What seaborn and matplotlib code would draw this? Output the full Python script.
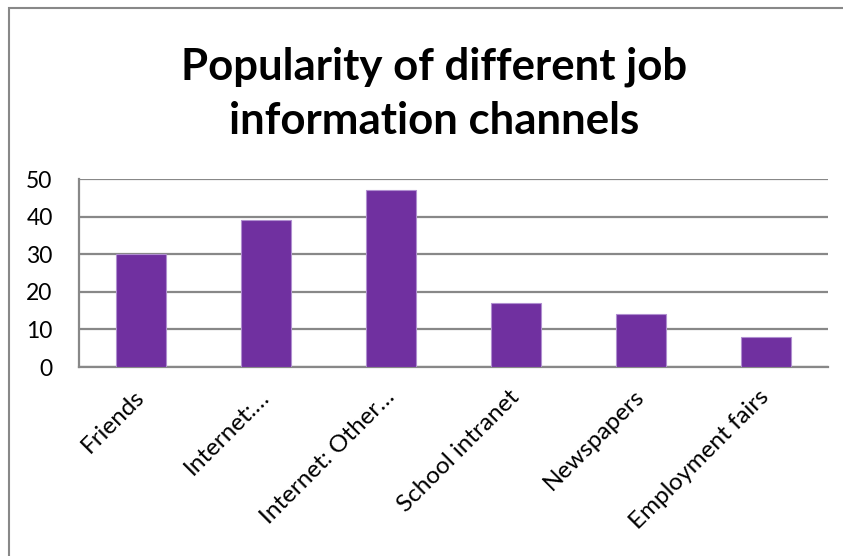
import matplotlib
matplotlib.use("Agg")
import matplotlib.pyplot as plt
import seaborn as sns
import pandas as pd
from matplotlib.patches import Rectangle

categories = ["Friends", "Internet:…", "Internet: Other…", "School intranet",
              "Newspapers", "Employment fairs"]
values = [30, 39, 47, 17, 14, 8]
yticks = [0, 10, 20, 30, 40, 50]
title = "Popularity of different job\ninformation channels"

sns.set_theme(style="white")
plt.rcParams['font.family'] = ['Lato', 'DejaVu Sans']

df = pd.DataFrame({"channel": categories, "count": values})

fig = plt.figure(figsize=(8.43, 5.56), dpi=100)
ax = fig.add_axes([79/843, 1-367/556, (828-79)/843, (367-179)/556])

sns.barplot(data=df, x="channel", y="count", color="#7030A0", width=0.4,
            saturation=1, edgecolor="#b08fd0", linewidth=0.8, ax=ax, zorder=3)

ax.set_ylim(0, 50)
ax.set_xlim(-0.5, len(categories) - 0.5)
ax.set_yticks(yticks)
ax.set_yticklabels([str(v) for v in yticks], fontsize=16.5, color="black")
ax.yaxis.grid(True, color="#888888", linewidth=1.6, zorder=0)
ax.set_axisbelow(True)
ax.set_xlabel("")
ax.set_ylabel("")
for s in ["top", "right"]:
    ax.spines[s].set_visible(False)
for s in ["left", "bottom"]:
    ax.spines[s].set_color("#888888")
    ax.spines[s].set_linewidth(1.6)
ax.tick_params(axis="y", length=0, pad=19)
ax.tick_params(axis="x", length=0, pad=19)
ax.set_xticks(range(len(categories)))
ax.set_xticklabels(categories, rotation=45, ha="right", va="center",
                   rotation_mode="anchor", fontsize=17.5, color="black")

fig.text(0.515, 0.832, title, ha="center", va="center", fontsize=31.5,
         fontweight="bold", linespacing=1.42, color="black")

fig.add_artist(Rectangle((9/843, -0.1), 1.2, (1 - 8/556) + 0.1,
                         transform=fig.transFigure, fill=False,
                         edgecolor="#888888", linewidth=1.5))

fig.savefig("out.png", dpi=100)
